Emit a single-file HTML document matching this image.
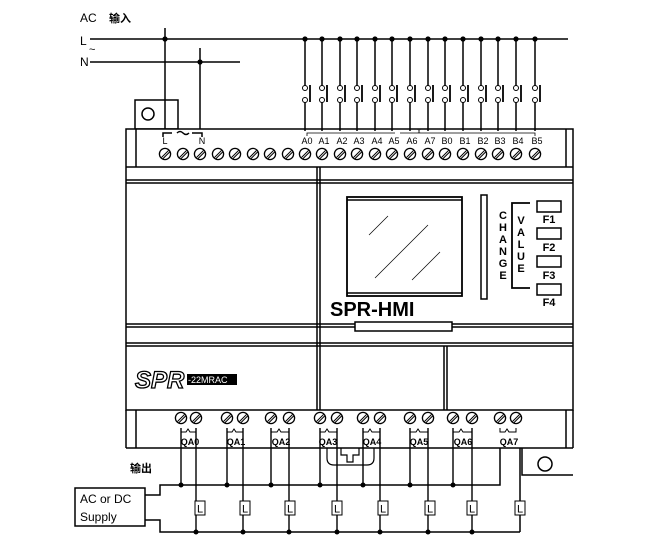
<!DOCTYPE html><html><head><meta charset="utf-8"><style>body{margin:0;background:#fff}svg{display:block}text{font-family:"Liberation Sans","Noto Sans CJK SC",sans-serif}</style></head><body>
<svg width="657" height="550" viewBox="0 0 657 550" xmlns="http://www.w3.org/2000/svg">
<defs>
<g id="t"><circle r="5.6" fill="#fff" stroke="#000" stroke-width="1.3"/><line x1="-3.5" y1="3.5" x2="3.5" y2="-3.5" stroke="#000" stroke-width="1"/><line x1="-2" y1="4.6" x2="4.6" y2="-2" stroke="#000" stroke-width="1"/></g>
<g id="sw" stroke="#000"><line x1="0" y1="0" x2="0" y2="46.5" stroke-width="1.5"/><line x1="0" y1="63.5" x2="0" y2="92" stroke-width="1.5"/><circle cx="0" cy="49" r="2.5" fill="#fff" stroke-width="1"/><circle cx="0" cy="61" r="2.5" fill="#fff" stroke-width="1"/><line x1="5" y1="46" x2="5" y2="63" stroke-width="1.8"/><circle cx="0" cy="0" r="2.6" fill="#000" stroke="none"/></g>
<g id="L"><rect x="-5" y="-7" width="10" height="14" fill="#fff" stroke="#000"/><text x="0" y="4.5" font-size="11" text-anchor="middle" font-family="Liberation Mono">L</text></g>
</defs>
<g stroke="#000" fill="none" stroke-width="1.5">
<line x1="90" y1="39" x2="568" y2="39"/>
<line x1="90" y1="62" x2="240" y2="62"/>
<line x1="165" y1="28" x2="165" y2="130"/>
<line x1="200" y1="48" x2="200" y2="130"/>
<rect x="135" y="100" width="43" height="29" fill="#fff"/>
<circle cx="148" cy="114" r="6" />
<line x1="165" y1="100" x2="165" y2="130"/>
<rect x="126" y="129" width="447" height="281" fill="#fff"/>
<line x1="136" y1="129" x2="136" y2="167"/>
<line x1="566" y1="129" x2="566" y2="167"/>
<line x1="126" y1="167" x2="573" y2="167"/>
<line x1="126" y1="180" x2="573" y2="180"/>
<line x1="126" y1="183" x2="573" y2="183"/>
<line x1="126" y1="324" x2="573" y2="324"/>
<line x1="126" y1="327" x2="573" y2="327"/>
<line x1="126" y1="343" x2="573" y2="343"/>
<line x1="126" y1="346" x2="573" y2="346"/>
<line x1="317" y1="167" x2="317" y2="410"/>
<line x1="320" y1="167" x2="320" y2="410"/>
<line x1="444" y1="346" x2="444" y2="410"/>
<line x1="447" y1="346" x2="447" y2="410"/>
<rect x="347" y="197" width="115" height="99" stroke-width="1.8"/>
<line x1="347" y1="200" x2="462" y2="200"/>
<line x1="347" y1="293" x2="462" y2="293"/>
<line x1="369" y1="235" x2="388" y2="216" stroke-width="0.7"/>
<line x1="375" y1="278" x2="428" y2="225" stroke-width="0.7"/>
<line x1="412" y1="280" x2="440" y2="252" stroke-width="0.7"/>
<rect x="481" y="195" width="6" height="104"/>
<rect x="355" y="322" width="97" height="9" fill="#fff"/>
<polyline points="530,203 512,203 512,288 530,288" stroke-width="1.8"/>
<rect x="537" y="201" width="24" height="11"/>
<rect x="537" y="228" width="24" height="11"/>
<rect x="537" y="256" width="24" height="11"/>
<rect x="537" y="284" width="24" height="11"/>
<line x1="126" y1="448" x2="573" y2="448"/>
<line x1="126" y1="410" x2="126" y2="448"/>
<line x1="136" y1="410" x2="136" y2="448"/>
<line x1="573" y1="410" x2="573" y2="448"/>
<line x1="566" y1="410" x2="566" y2="448"/>
<polyline points="522,448 522,475 573,475"/>
<circle cx="545" cy="464" r="7"/>
<path d="M327 448 v10 q0 7 7 7 h33 q7 0 7 -7 v-10" stroke-width="1.2"/>
<path d="M341 448 v7 h6 v7 h6 v-7 h6 v-7" stroke-width="1.2"/>
<polyline points="163,137 163,133 172,133"/><polyline points="192,133 202,133 202,137"/>
<path d="M177 133 q3 -3 6 0 t6 0"/>
<polyline points="307,136 307,133 395,133" stroke-width="0.8"/><polyline points="400,133 535,133 535,136" stroke-width="0.8"/>
<polyline points="145,495 160,495 160,485 500,485 500,448"/>
<polyline points="145,520 160,520 160,532 520,532"/>
<polyline points="520,532 520,448"/>
<rect x="75" y="488" width="70" height="38" fill="#fff"/>
</g>
<g>
<use href="#sw" x="305" y="39"/><use href="#sw" x="322" y="39"/><use href="#sw" x="340" y="39"/><use href="#sw" x="357" y="39"/><use href="#sw" x="375" y="39"/><use href="#sw" x="392" y="39"/><use href="#sw" x="410" y="39"/><use href="#sw" x="428" y="39"/><use href="#sw" x="445" y="39"/><use href="#sw" x="463" y="39"/><use href="#sw" x="481" y="39"/><use href="#sw" x="498" y="39"/><use href="#sw" x="516" y="39"/><use href="#sw" x="535" y="39"/>
<circle cx="165" cy="39" r="2.6"/><circle cx="200" cy="62" r="2.6"/>
</g>
<g>
<use href="#t" x="165" y="154"/><use href="#t" x="183" y="154"/><use href="#t" x="200" y="154"/><use href="#t" x="218" y="154"/><use href="#t" x="235" y="154"/><use href="#t" x="253" y="154"/><use href="#t" x="270" y="154"/><use href="#t" x="288" y="154"/><use href="#t" x="305" y="154"/><use href="#t" x="322" y="154"/><use href="#t" x="340" y="154"/><use href="#t" x="357" y="154"/><use href="#t" x="375" y="154"/><use href="#t" x="392" y="154"/><use href="#t" x="410" y="154"/><use href="#t" x="428" y="154"/><use href="#t" x="445" y="154"/><use href="#t" x="463" y="154"/><use href="#t" x="481" y="154"/><use href="#t" x="498" y="154"/><use href="#t" x="516" y="154"/><use href="#t" x="535" y="154"/>
</g>
<g font-size="9" text-anchor="middle">
<text x="165" y="144">L</text><text x="202" y="144">N</text>
<text x="307" y="144">A0</text><text x="324" y="144">A1</text><text x="342" y="144">A2</text><text x="359" y="144">A3</text><text x="377" y="144">A4</text><text x="394" y="144">A5</text><text x="412" y="144">A6</text><text x="430" y="144">A7</text><text x="447" y="144">B0</text><text x="465" y="144">B1</text><text x="483" y="144">B2</text><text x="500" y="144">B3</text><text x="518" y="144">B4</text><text x="537" y="144">B5</text>
<text x="419" y="133" font-size="6">x</text>
</g>
<g stroke="#000" fill="none" stroke-width="1.4">
<line x1="181" y1="428" x2="181" y2="485"/><line x1="196" y1="428" x2="196" y2="532"/>
<line x1="227" y1="428" x2="227" y2="485"/><line x1="243" y1="428" x2="243" y2="532"/>
<line x1="271" y1="428" x2="271" y2="485"/><line x1="289" y1="428" x2="289" y2="532"/>
<line x1="320" y1="428" x2="320" y2="485"/><line x1="337" y1="428" x2="337" y2="532"/>
<line x1="363" y1="428" x2="363" y2="485"/><line x1="380" y1="428" x2="380" y2="532"/>
<line x1="410" y1="428" x2="410" y2="485"/><line x1="428" y1="428" x2="428" y2="532"/>
<line x1="453" y1="428" x2="453" y2="485"/><line x1="472" y1="428" x2="472" y2="532"/>
<polyline points="181,428 181,432 186,432 188,429 190,432 196,432 196,428" stroke-width="1"/>
<polyline points="227,428 227,432 232,432 234,429 236,432 243,432 243,428" stroke-width="1"/>
<polyline points="271,428 271,432 277,432 279,429 281,432 289,432 289,428" stroke-width="1"/>
<polyline points="320,428 320,432 325,432 327,429 329,432 337,432 337,428" stroke-width="1"/>
<polyline points="363,428 363,432 368,432 370,429 372,432 380,432 380,428" stroke-width="1"/>
<polyline points="410,428 410,432 416,432 418,429 420,432 428,432 428,428" stroke-width="1"/>
<polyline points="453,428 453,432 459,432 461,429 463,432 472,432 472,428" stroke-width="1"/>
<polyline points="500,428 500,432 505,432 507,429 509,432 516,432 516,428" stroke-width="1"/>
</g>
<g fill="#000">
<circle cx="181" cy="485" r="2.5"/><circle cx="227" cy="485" r="2.5"/><circle cx="271" cy="485" r="2.5"/><circle cx="320" cy="485" r="2.5"/><circle cx="363" cy="485" r="2.5"/><circle cx="410" cy="485" r="2.5"/><circle cx="453" cy="485" r="2.5"/>
<circle cx="196" cy="532" r="2.5"/><circle cx="243" cy="532" r="2.5"/><circle cx="289" cy="532" r="2.5"/><circle cx="337" cy="532" r="2.5"/><circle cx="380" cy="532" r="2.5"/><circle cx="428" cy="532" r="2.5"/><circle cx="472" cy="532" r="2.5"/>
</g>
<g>
<use href="#t" x="181" y="418"/><use href="#t" x="196" y="418"/><use href="#t" x="227" y="418"/><use href="#t" x="243" y="418"/><use href="#t" x="271" y="418"/><use href="#t" x="289" y="418"/><use href="#t" x="320" y="418"/><use href="#t" x="337" y="418"/><use href="#t" x="363" y="418"/><use href="#t" x="380" y="418"/><use href="#t" x="410" y="418"/><use href="#t" x="428" y="418"/><use href="#t" x="453" y="418"/><use href="#t" x="472" y="418"/><use href="#t" x="500" y="418"/><use href="#t" x="516" y="418"/>
<use href="#L" x="200" y="508"/><use href="#L" x="245" y="508"/><use href="#L" x="290" y="508"/><use href="#L" x="337" y="508"/><use href="#L" x="383" y="508"/><use href="#L" x="430" y="508"/><use href="#L" x="472" y="508"/><use href="#L" x="520" y="508"/>
</g>
<g font-size="9" font-weight="bold" text-anchor="middle" font-family="Liberation Mono">
<text x="190" y="445">QA0</text><text x="236" y="445">QA1</text><text x="281" y="445">QA2</text><text x="328" y="445">QA3</text><text x="372" y="445">QA4</text><text x="419" y="445">QA5</text><text x="463" y="445">QA6</text><text x="509" y="445">QA7</text>
</g>
<text x="80" y="22" font-size="12" font-family="Liberation Serif">AC</text>
<text x="109" y="22" font-size="11" font-weight="bold">输入</text>
<text x="80" y="45" font-size="12" font-family="Liberation Serif">L</text>
<text x="89" y="53" font-size="11">~</text>
<text x="80" y="66" font-size="12" font-family="Liberation Serif">N</text>
<text x="130" y="472" font-size="11" font-weight="bold">输出</text>
<text x="80" y="503" font-size="12" font-family="Liberation Mono">AC or DC</text>
<text x="80" y="521" font-size="12" font-family="Liberation Mono">Supply</text>
<text x="330" y="316" font-size="20" font-weight="bold">SPR-HMI</text>
<g font-size="11" font-weight="bold" text-anchor="middle">
<text x="503" y="219">C</text><text x="503" y="231">H</text><text x="503" y="243">A</text><text x="503" y="255">N</text><text x="503" y="267">G</text><text x="503" y="279">E</text>
<text x="521" y="224">V</text><text x="521" y="236">A</text><text x="521" y="248">L</text><text x="521" y="260">U</text><text x="521" y="272">E</text>
<text x="549" y="223">F1</text><text x="549" y="251">F2</text><text x="549" y="279">F3</text><text x="549" y="306">F4</text>
</g>
<text x="135" y="388" font-size="24" font-style="italic" font-weight="bold" font-family="Liberation Serif" style="fill:#fff;stroke:#000;stroke-width:1.3">SPR</text>
<rect x="187" y="374" width="50" height="11" fill="#000"/>
<text x="188" y="383" font-size="9" style="fill:#fff">-22MRAC</text>
</svg>
</body></html>
